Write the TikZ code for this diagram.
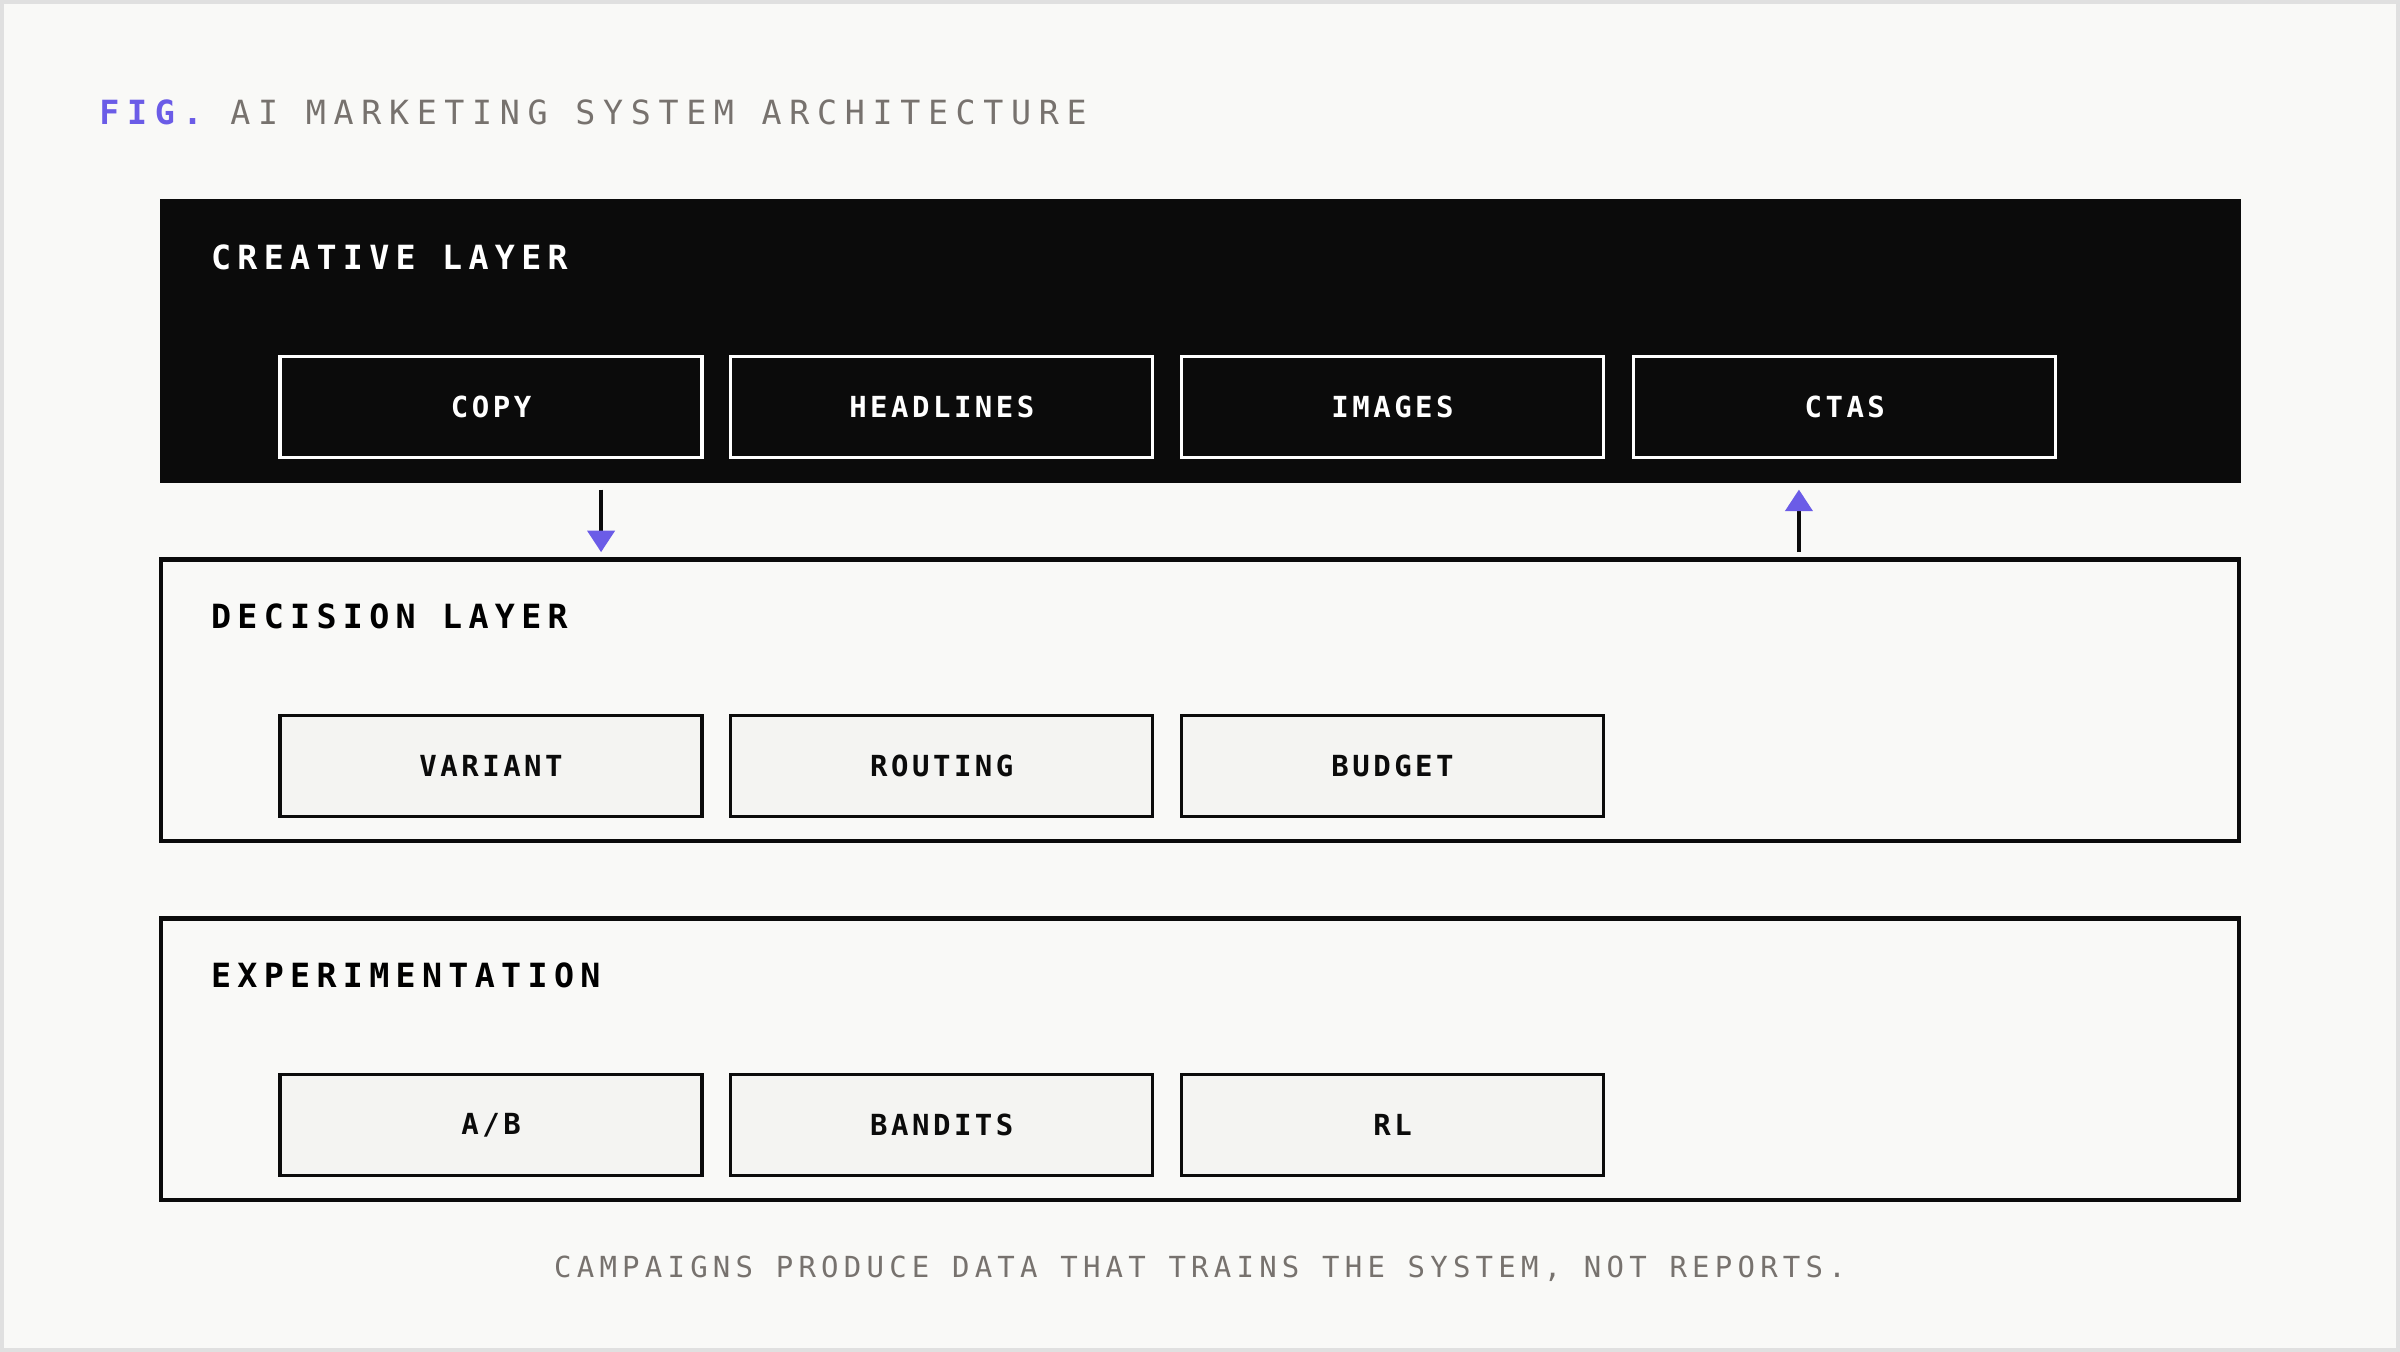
\documentclass[tikz,border=0pt]{standalone}
\usepackage{fontspec}
\usetikzlibrary{arrows.meta}
\newfontfamily\titlefont[LetterSpace=23]{DejaVu Sans Mono}
\newfontfamily\layerfont[LetterSpace=19]{DejaVu Sans Mono}
\newfontfamily\boxfont[LetterSpace=12]{DejaVu Sans Mono}
\newfontfamily\notefont[LetterSpace=18]{DejaVu Sans Mono}
\definecolor{paper}{HTML}{F9F9F7}
\definecolor{ink}{HTML}{0B0B0B}
\definecolor{mute}{HTML}{77726E}
\definecolor{accent}{HTML}{6B5CE7}
\definecolor{cell}{HTML}{F4F4F2}
\tikzset{
  layerlabel/.style={anchor=west,font=\layerfont\fontsize{6.2}{7}\selectfont\bfseries},
  darkcell/.style={draw=white,line width=0.6pt,fill=ink,text=white,
    minimum width=2.76cm,minimum height=0.66cm,font=\boxfont\fontsize{5.4}{6}\selectfont\bfseries},
  lightcell/.style={draw=ink,line width=0.6pt,fill=cell,text=ink,
    minimum width=2.76cm,minimum height=0.66cm,font=\boxfont\fontsize{5.4}{6}\selectfont\bfseries},
  flow/.style={draw=ink,line width=0.8pt,-{Triangle[length=4pt,width=5pt,color=accent]}}
}
\begin{document}
\begin{tikzpicture}[x=0.01cm,y=-0.01cm]
  % page
  \draw[fill=paper,draw=black!12,line width=0.8pt] (0,0) rectangle (1568,882);
  \node[anchor=west,inner sep=0pt] (title) at (63,72)
    {\titlefont\fontsize{6.2}{7}\selectfont\textcolor{accent}{\bfseries FIG.} \textcolor{mute}{AI MARKETING SYSTEM ARCHITECTURE}};
  % creative layer
  \fill[ink] (103,129) rectangle (1465,315);
  \node[layerlabel,text=white,inner sep=0pt] (creative) at (136,167) {CREATIVE LAYER};
  \node[darkcell] (copy) at (320,265) {COPY};
  \node[darkcell] (headlines) at (615,265) {HEADLINES};
  \node[darkcell] (images) at (910,265) {IMAGES};
  \node[darkcell] (ctas) at (1206,265) {CTAS};
  % decision layer
  \draw[ink,line width=0.9pt] (104,365) rectangle (1464,549);
  \node[layerlabel,inner sep=0pt] (decision) at (136,402) {DECISION LAYER};
  \node[lightcell] (variant) at (320,500) {VARIANT};
  \node[lightcell] (routing) at (615,500) {ROUTING};
  \node[lightcell] (budget) at (910,500) {BUDGET};
  % experimentation
  \draw[ink,line width=0.9pt] (104,600) rectangle (1464,784);
  \node[layerlabel,inner sep=0pt] (experiment) at (136,637) {EXPERIMENTATION};
  \node[lightcell] (ab) at (320,735) {A/B};
  \node[lightcell] (bandits) at (615,735) {BANDITS};
  \node[lightcell] (rl) at (910,735) {RL};
  % flows between layers
  \coordinate (downtop) at (392,319);
  \coordinate (downbot) at (392,360);
  \coordinate (uptop) at (1176,319);
  \coordinate (upbot) at (1176,360);
  \draw[flow] (downtop) -- (downbot);
  \draw[flow] (upbot) -- (uptop);
  \node[inner sep=0pt,text=mute] (note) at (784,829)
    {\notefont\fontsize{5.4}{6}\selectfont CAMPAIGNS PRODUCE DATA THAT TRAINS THE SYSTEM, NOT REPORTS.};
\end{tikzpicture}
\end{document}
